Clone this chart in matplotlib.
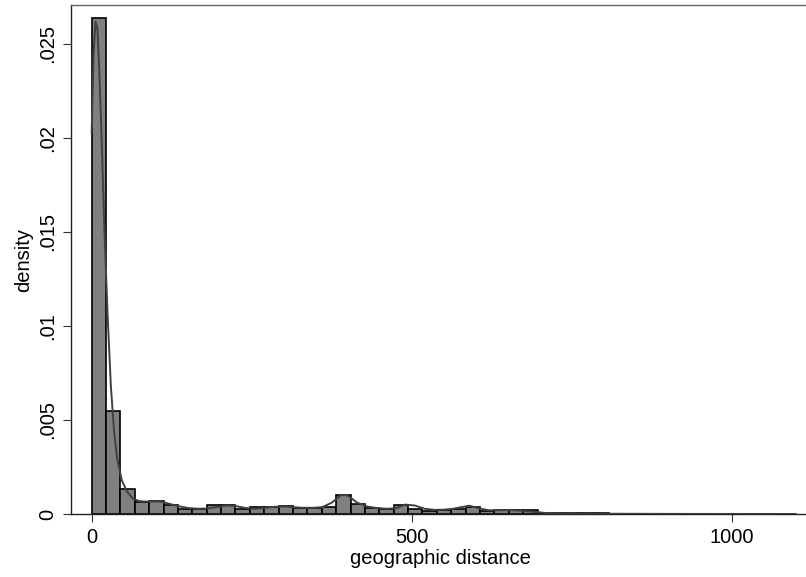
import matplotlib
matplotlib.use("Agg")
import matplotlib.pyplot as plt
import numpy as np

# ---- data ----
bin_start = 0.0
bin_width = 22.47
density = [0.02638, 0.00549, 0.001346, 0.000638, 0.000676, 0.000495, 0.000266,
           0.000266, 0.000463, 0.000463, 0.000266, 0.000346, 0.000346, 0.000415,
           0.000319, 0.000319, 0.000372, 0.000984, 0.000548, 0.000335, 0.000266,
           0.000495, 0.000266, 0.000160, 0.000195, 0.000284, 0.000355, 0.000160,
           0.000230, 0.000213, 0.000195, 0.00006, 0.00005, 0.00004, 0.00003,
           0.00003, 0.00002, 0.00002, 0.00001]

kde_x = [0, 3, 6, 9, 12, 16, 20, 25, 30, 35, 40, 47, 55, 65, 75, 85, 100, 110,
         120, 135, 150, 165, 180, 195, 210, 225, 240, 255, 270, 285, 300, 315,
         330, 345, 360, 375, 390, 400, 415, 430, 445, 460, 475, 490, 505, 520,
         535, 550, 565, 580, 590, 605, 620, 635, 650, 665, 680, 695, 710, 730,
         760, 800, 850, 900, 950, 1000, 1050, 1100]
kde_y = [0.0203, 0.0245, 0.0262, 0.0258, 0.0235, 0.0195, 0.0150, 0.0105, 0.0068,
         0.0044, 0.0029, 0.0018, 0.0012, 0.0008, 0.00068, 0.00066, 0.00067,
         0.00065, 0.00055, 0.00042, 0.00032, 0.00028, 0.00029, 0.00036, 0.00045,
         0.00042, 0.00032, 0.00028, 0.00032, 0.00038, 0.00040, 0.00036, 0.00033,
         0.00033, 0.00036, 0.00060, 0.00102, 0.00098, 0.00060, 0.00040, 0.00032,
         0.00028, 0.00030, 0.00050, 0.00045, 0.00028, 0.00022, 0.00023, 0.00028,
         0.00038, 0.00044, 0.00030, 0.00020, 0.00020, 0.00021, 0.00019, 0.00015,
         0.00010, 0.00005, 0.00003, 0.00002, 0.000015, 0.00001, 0.000006,
         0.000004, 0.000003, 0.000002, 0.000001]

x_ticks = [0, 500, 1000]
x_tick_labels = ["0", "500", "1000"]
y_ticks = [0, 0.005, 0.01, 0.015, 0.02, 0.025]
y_tick_labels = ["0", ".005", ".01", ".015", ".02", ".025"]

plt.rcParams['font.family'] = ['Liberation Sans', 'DejaVu Sans']

fig = plt.figure(figsize=(8.06, 5.77), dpi=100)
ax = fig.add_axes([71/806, 1 - 514/577, (810 - 71)/806, (514 - 5)/577])

lefts = bin_start + bin_width * np.arange(len(density))
ax.bar(lefts, density, width=bin_width, align='edge', color='#808080',
       edgecolor='black', linewidth=1.2, zorder=2)
ax.plot(kde_x, kde_y, color='#404040', linewidth=1.4, zorder=3)

ax.set_xlim(-32.3, 1122.3)
ax.set_ylim(0, 0.02707)

ax.set_xticks(x_ticks)
ax.set_xticklabels(x_tick_labels)
ax.set_yticks(y_ticks)
ax.set_yticklabels(y_tick_labels, rotation=90, va='center')

ax.tick_params(axis='both', labelsize=14.5, length=5.8, width=0.8,
               color='#333333', labelcolor='black')
ax.tick_params(axis='x', pad=4)
ax.tick_params(axis='y', pad=4)

ax.set_xlabel("geographic distance", fontsize=14.5, labelpad=2)
ax.set_ylabel("density", fontsize=14.5, labelpad=4)

for side in ['left', 'bottom']:
    ax.spines[side].set_color('#222222')
    ax.spines[side].set_linewidth(1.0)
ax.spines['top'].set_color('#666666')
ax.spines['top'].set_linewidth(1.0)
ax.spines['right'].set_visible(False)

fig.savefig("out.png", dpi=100)
